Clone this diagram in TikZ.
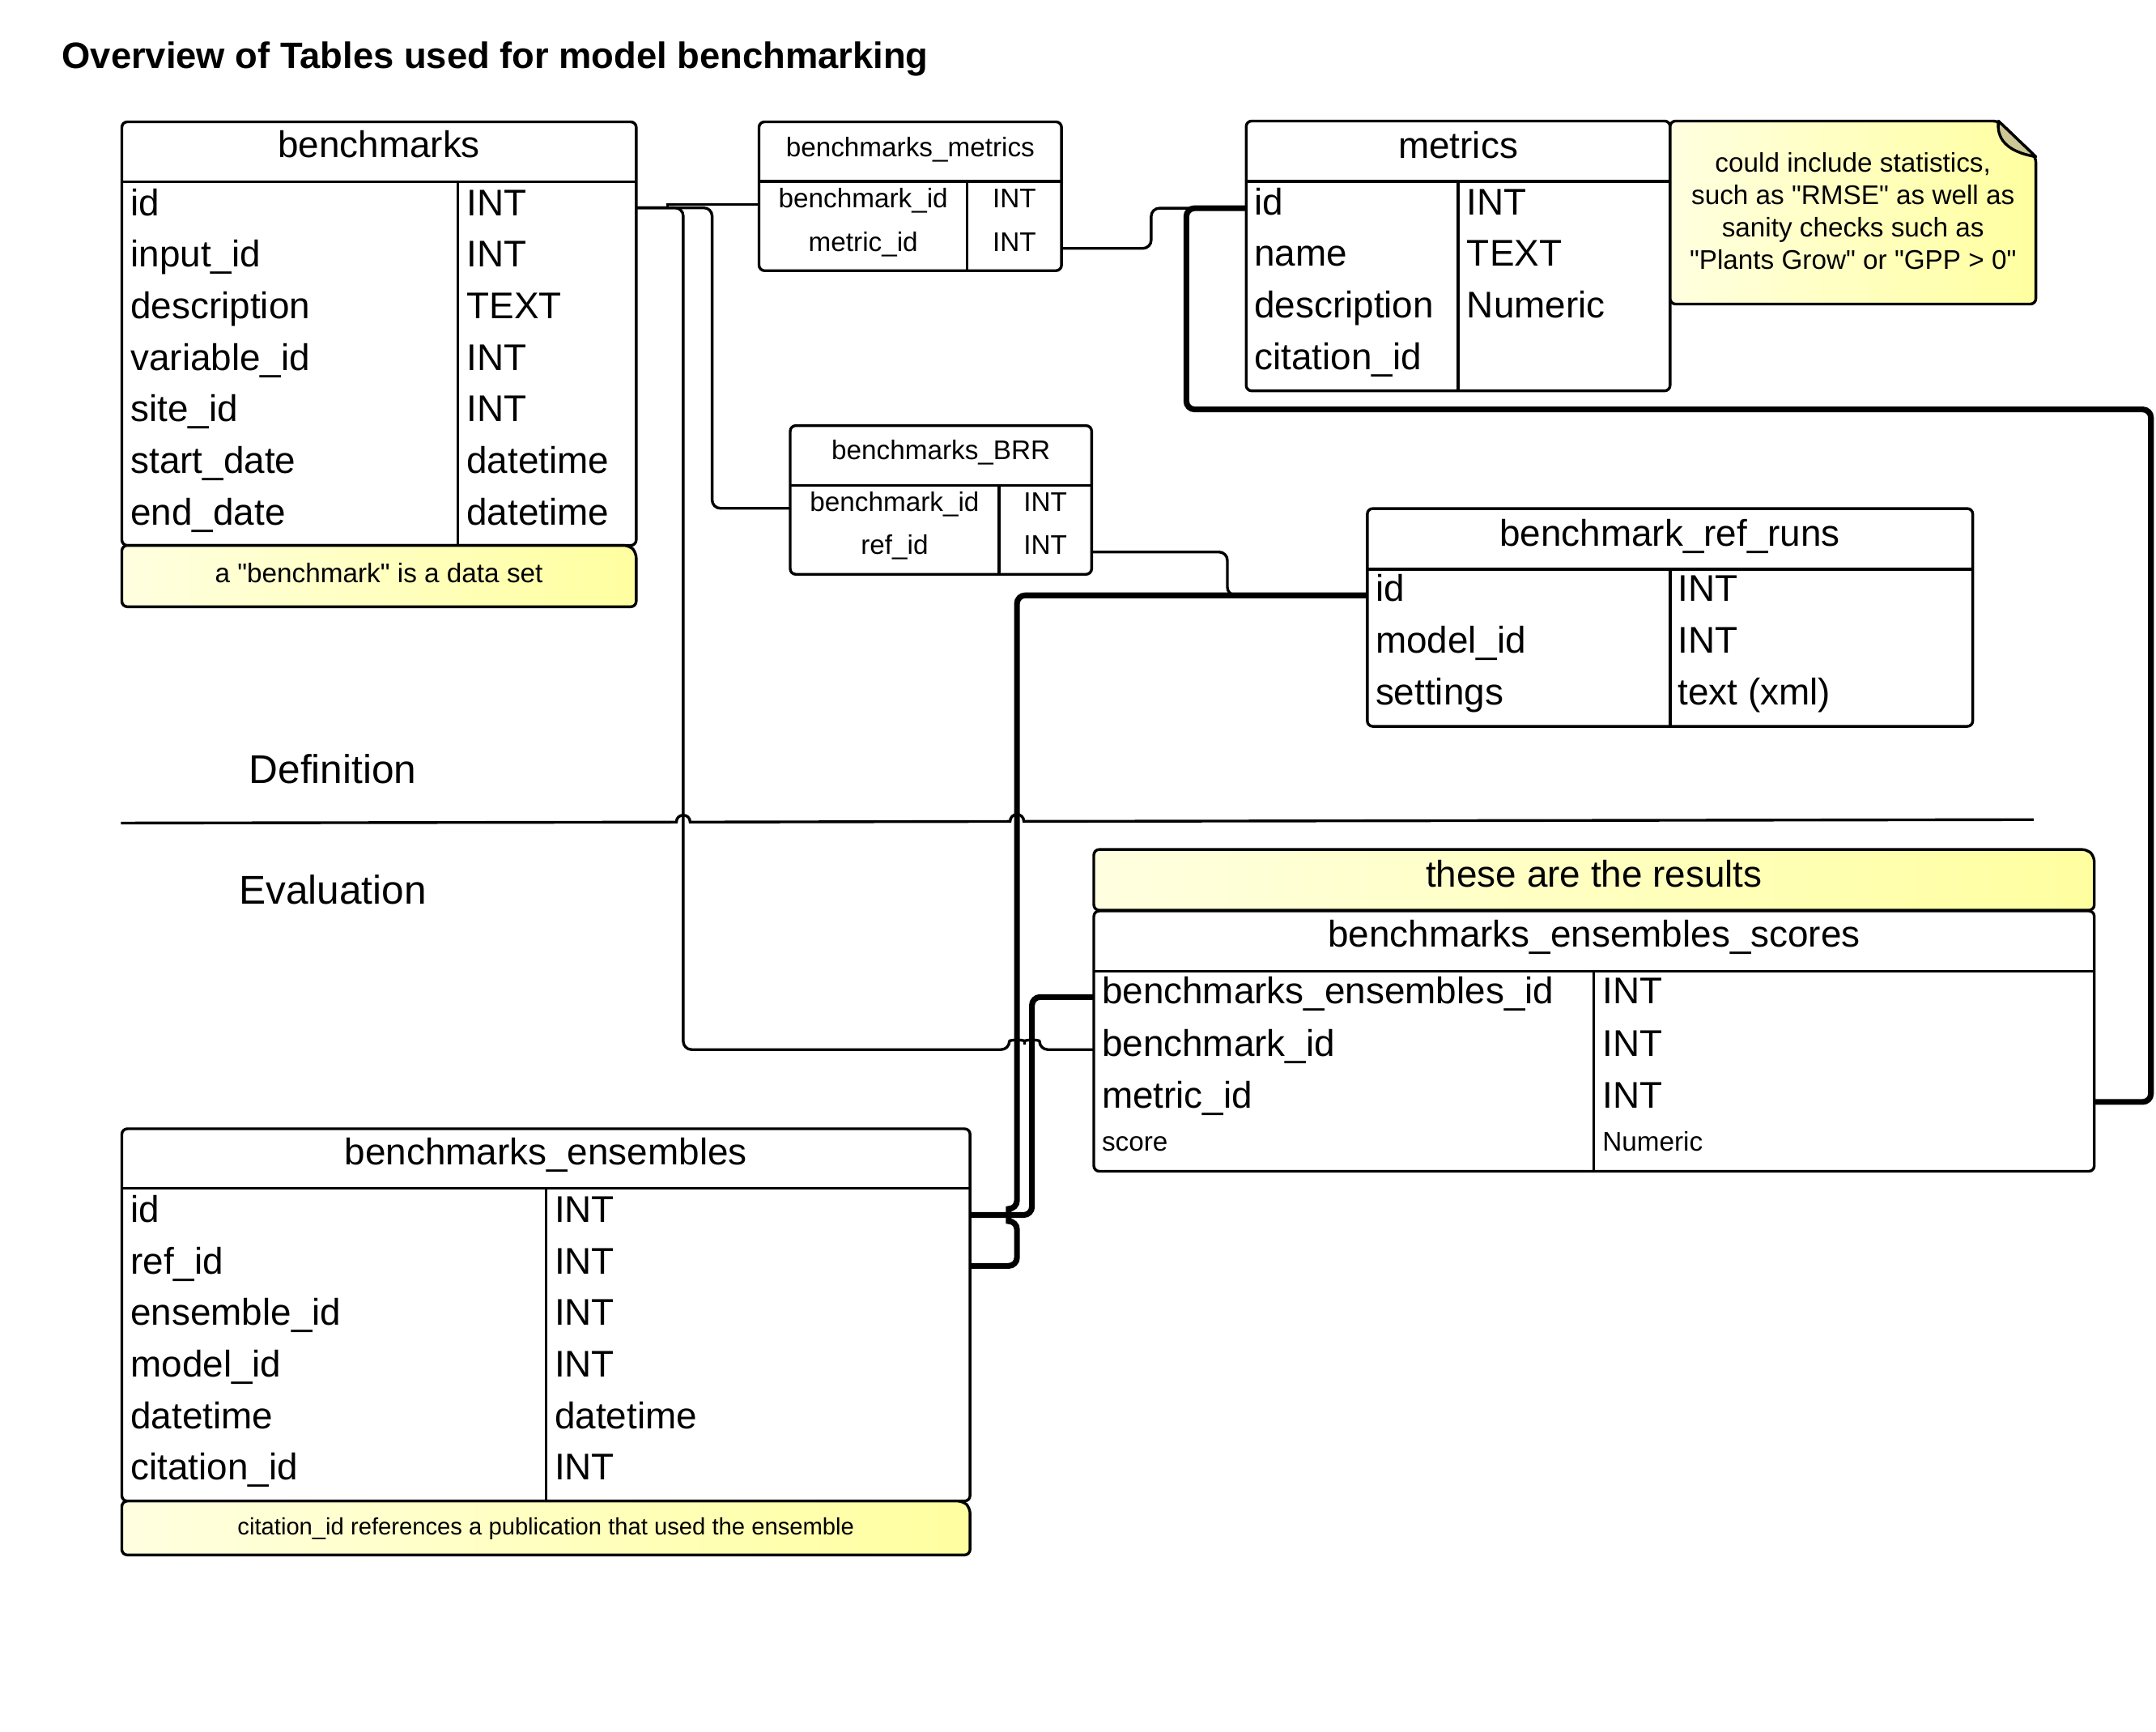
\documentclass[tikz,border=0pt]{standalone}
\usepackage{fontspec}
\setmainfont{Liberation Sans}
\newfontfamily\qfont{Liberation Sans}
\usetikzlibrary{fit}
\definecolor{noteL}{RGB}{255,255,224}
\definecolor{noteR}{RGB}{255,255,160}
\definecolor{foldc}{RGB}{204,200,150}
\tikzset{
  tbl/.style={draw, line width=1pt, rounded corners=2pt, fill=white, inner sep=0pt},
  grid/.style={line width=1pt},
  big/.style={font=\fontsize{13.5}{16}\selectfont, inner sep=0pt},
  small/.style={font=\fontsize{9.8}{11.7}\selectfont, inner sep=0pt},
  tiny/.style={font=\fontsize{8.6}{10}\selectfont, inner sep=0pt},
  sect/.style={font=\fontsize{14.6}{17}\selectfont, inner sep=0pt},
  thinc/.style={line width=1pt, rounded corners=3pt},
  thickc/.style={line width=2.1pt, rounded corners=3pt},
  notebox/.style={draw, line width=1pt, left color=noteL, right color=noteR, rounded corners=2pt},
  area/.style={inner sep=0pt}
}
\begin{document}
\begin{tikzpicture}[x=0.5pt,y=-0.5pt]
\useasboundingbox (0,0) rectangle (1568,1259);

% title
\node[anchor=base west, inner sep=0pt, font=\fontsize{13.35}{16}\selectfont\bfseries] (title) at (44.7,49.6) {Overview of Tables used for model benchmarking};

% areas (named, used by connectors)
\node[area, fit={(88.6,88.6) (462.7,396.6)}] (bm) {};
\node[area, fit={(552,88.6) (772,196.8)}] (bmm) {};
\node[area, fit={(906.3,88) (1214.6,284.2)}] (met) {};
\node[area, fit={(574.7,309.5) (793.9,417.6)}] (brr) {};
\node[area, fit={(994.4,369.8) (1434.7,528.2)}] (rr) {};
\node[area, fit={(795.5,662.4) (1523.1,851.7)}] (sc) {};
\node[area, fit={(88.6,820.8) (705.5,1091.5)}] (ens) {};

% connectors
\draw[thinc, sharp corners] (bm.east |- 0,151.1) -- (485.3,151.1) -- (485.3,148.7) -- (bmm.west |- 0,148.7);
\draw[thinc] (bm.east |- 0,151.1) -- (517.9,151.1) -- (517.9,369.6) -- (brr.west |- 0,369.6);
\draw[thinc] (bm.east |- 0,151.1) -- (496.9,151.1) -- (496.9,763.2) -- (734.1,763.2)
  .. controls (734.1,755.9) and (745.1,755.9) .. (745.1,763.2)
  .. controls (745.1,755.9) and (756,755.9) .. (756,763.2) -- (sc.west |- 0,763.2);
\draw[thinc] (bmm.east |- 0,180.6) -- (837.2,180.6) -- (837.2,151.4) -- (met.west |- 0,151.4);
\draw[thickc] (met.west |- 0,151.4) -- (862.8,151.4) -- (862.8,297.7) -- (1564.3,297.7) -- (1564.3,801.3) -- (sc.east |- 0,801.3);
\draw[thinc] (brr.east |- 0,401.4) -- (892.6,401.4) -- (892.6,432.9) -- (rr.west |- 0,432.9);
\draw[thickc] (rr.west |- 0,432.9) -- (739.6,432.9) -- (739.6,879)
  .. controls (733.6,879) and (733.6,888) .. (739.6,888) -- (739.6,920.5) -- (ens.east |- 0,920.5);
\draw[thickc] (ens.east |- 0,883.5) -- (750.5,883.5) -- (750.5,725) -- (sc.west |- 0,725);

% section divider with hops
\draw[line width=1pt] (88,598.5) -- (491.9,597.8)
  .. controls (491.9,591.1) and (501.9,591.1) .. (501.9,597.8) -- (734.6,597.3)
  .. controls (734.6,590.6) and (744.6,590.6) .. (744.6,597.3) -- (1479,596);
\node[sect] (defn) at (242,559) {Definition};
\node[sect] (eval) at (242,647) {Evaluation};

% ---------- benchmarks ----------
\node[tbl, fit={(88.6,88.6) (462.7,396.6)}] (bmbox) {};
\draw[grid] (88.6,132.2) -- (462.7,132.2) (332.8,132.2) -- (332.8,396.6);
\node[big, anchor=base] (bmt) at (275.6,114.8) {benchmarks};
\node[big, anchor=base west] (bma1) at (94.6,156.8) {id};
\node[big, anchor=base west] (bma2) at (94.6,194.3) {input\_id};
\node[big, anchor=base west] (bma3) at (94.6,231.7) {description};
\node[big, anchor=base west] (bma4) at (94.6,269.2) {variable\_id};
\node[big, anchor=base west] (bma5) at (94.6,306.7) {site\_id};
\node[big, anchor=base west] (bma6) at (94.6,344.2) {start\_date};
\node[big, anchor=base west] (bma7) at (94.6,381.6) {end\_date};
\node[big, anchor=base west] (bmb1) at (339,156.8) {INT};
\node[big, anchor=base west] (bmb2) at (339,194.3) {INT};
\node[big, anchor=base west] (bmb3) at (339,231.7) {TEXT};
\node[big, anchor=base west] (bmb4) at (339,269.2) {INT};
\node[big, anchor=base west] (bmb5) at (339,306.7) {INT};
\node[big, anchor=base west] (bmb6) at (339,344.2) {datetime};
\node[big, anchor=base west] (bmb7) at (339,381.6) {datetime};
% note
\draw[notebox] (88.6,396.6) -- (457.7,396.6) -- (462.7,401.6) -- (462.7,441.2) -- (88.6,441.2) -- cycle;
\node[small, anchor=base, font=\fontsize{9.8}{11.7}\selectfont\qfont] (bmnote) at (275.6,423.7) {a "benchmark" is a data set};

% ---------- benchmarks_metrics ----------
\node[tbl, fit={(552,88.6) (772,196.8)}] (bmmbox) {};
\draw[grid] (552,132) -- (772,132) (703.5,132) -- (703.5,196.8);
\node[small, anchor=base] (bmmt) at (662,113.8) {benchmarks\_metrics};
\node[small, anchor=base] (bmma1) at (627.8,151.3) {benchmark\_id};
\node[small, anchor=base] (bmma2) at (627.8,182.6) {metric\_id};
\node[small, anchor=base] (bmmb1) at (737.7,151.3) {INT};
\node[small, anchor=base] (bmmb2) at (737.7,182.6) {INT};

% ---------- metrics ----------
\node[tbl, fit={(906.3,88) (1214.6,284.2)}] (metbox) {};
\draw[grid] (906.3,131.9) -- (1214.6,131.9) (1060.5,131.9) -- (1060.5,284.2);
\node[big, anchor=base] (mett) at (1060.5,115) {metrics};
\node[big, anchor=base west] (meta1) at (911.8,156.2) {id};
\node[big, anchor=base west] (meta2) at (911.8,193.7) {name};
\node[big, anchor=base west] (meta3) at (911.8,231.2) {description};
\node[big, anchor=base west] (meta4) at (911.8,268.7) {citation\_id};
\node[big, anchor=base west] (metb1) at (1066.5,156.2) {INT};
\node[big, anchor=base west] (metb2) at (1066.5,193.7) {TEXT};
\node[big, anchor=base west] (metb3) at (1066.5,231.2) {Numeric};
% note
\draw[notebox] (1214.6,88) -- (1453.4,88) -- (1480.6,114) -- (1480.6,221.1) -- (1214.6,221.1) -- cycle;
\draw[line width=1pt, fill=foldc, line join=round] (1453.4,88) .. controls (1452,100) and (1458,110) .. (1480.6,114) -- cycle;
\node[small, align=center, font=\fontsize{9.8}{11.7}\selectfont\qfont] (metnote) at (1347.6,153.5) {could include statistics,\\such as "RMSE" as well as\\sanity checks such as\\"Plants Grow" or "GPP > 0"};

% ---------- benchmarks_BRR ----------
\node[tbl, fit={(574.7,309.5) (793.9,417.6)}] (brrbox) {};
\draw[grid] (574.7,353) -- (793.9,353) (726.6,353) -- (726.6,417.6);
\node[small, anchor=base] (brrt) at (684.3,334.2) {benchmarks\_BRR};
\node[small, anchor=base] (brra1) at (650.6,371.8) {benchmark\_id};
\node[small, anchor=base] (brra2) at (650.6,402.8) {ref\_id};
\node[small, anchor=base] (brrb1) at (760.3,371.8) {INT};
\node[small, anchor=base] (brrb2) at (760.3,402.8) {INT};

% ---------- benchmark_ref_runs ----------
\node[tbl, fit={(994.4,369.8) (1434.7,528.2)}] (rrbox) {};
\draw[grid] (994.4,414) -- (1434.7,414) (1214.6,414) -- (1214.6,528.2);
\node[big, anchor=base] (rrt) at (1214.5,397.4) {benchmark\_ref\_runs};
\node[big, anchor=base west] (rra1) at (1000,437.4) {id};
\node[big, anchor=base west] (rra2) at (1000,474.9) {model\_id};
\node[big, anchor=base west] (rra3) at (1000,512.4) {settings};
\node[big, anchor=base west] (rrb1) at (1220,437.4) {INT};
\node[big, anchor=base west] (rrb2) at (1220,474.9) {INT};
\node[big, anchor=base west] (rrb3) at (1220,512.4) {text (xml)};

% ---------- results note + scores ----------
\draw[notebox] (795.5,617.7) -- (1518.1,617.7) -- (1523.1,622.7) -- (1523.1,661.9) -- (795.5,661.9) -- cycle;
\node[big, anchor=base] (scnote) at (1159.3,645.3) {these are the results};
\node[tbl, fit={(795.5,662.4) (1523.1,851.7)}] (scbox) {};
\draw[grid] (795.5,706.4) -- (1523.1,706.4) (1159,706.4) -- (1159,851.7);
\node[big, anchor=base] (sct) at (1159.3,688.8) {benchmarks\_ensembles\_scores};
\node[big, anchor=base west] (sca1) at (801,730) {benchmarks\_ensembles\_id};
\node[big, anchor=base west] (sca2) at (801,767.8) {benchmark\_id};
\node[big, anchor=base west] (sca3) at (801,805.5) {metric\_id};
\node[small, anchor=base west] (sca4) at (801,836.8) {score};
\node[big, anchor=base west] (scb1) at (1165,730) {INT};
\node[big, anchor=base west] (scb2) at (1165,767.8) {INT};
\node[big, anchor=base west] (scb3) at (1165,805.5) {INT};
\node[small, anchor=base west] (scb4) at (1165,836.8) {Numeric};

% ---------- benchmarks_ensembles ----------
\node[tbl, fit={(88.6,820.8) (705.5,1091.5)}] (ensbox) {};
\draw[grid] (88.6,864.2) -- (705.5,864.2) (397,864.2) -- (397,1091.5);
\node[big, anchor=base] (enst) at (397,847) {benchmarks\_ensembles};
\node[big, anchor=base west] (ensa1) at (94.6,888.8) {id};
\node[big, anchor=base west] (ensa2) at (94.6,926.3) {ref\_id};
\node[big, anchor=base west] (ensa3) at (94.6,963.8) {ensemble\_id};
\node[big, anchor=base west] (ensa4) at (94.6,1001.3) {model\_id};
\node[big, anchor=base west] (ensa5) at (94.6,1038.8) {datetime};
\node[big, anchor=base west] (ensa6) at (94.6,1076.3) {citation\_id};
\node[big, anchor=base west] (ensb1) at (403,888.8) {INT};
\node[big, anchor=base west] (ensb2) at (403,926.3) {INT};
\node[big, anchor=base west] (ensb3) at (403,963.8) {INT};
\node[big, anchor=base west] (ensb4) at (403,1001.3) {INT};
\node[big, anchor=base west] (ensb5) at (403,1038.8) {datetime};
\node[big, anchor=base west] (ensb6) at (403,1076.3) {INT};
% note
\draw[notebox] (88.6,1091.5) -- (700.5,1091.5) -- (705.5,1096.5) -- (705.5,1130.7) -- (88.6,1130.7) -- cycle;
\node[tiny, anchor=base] (ensnote) at (397,1116) {citation\_id references a publication that used the ensemble};
\end{tikzpicture}
\end{document}
